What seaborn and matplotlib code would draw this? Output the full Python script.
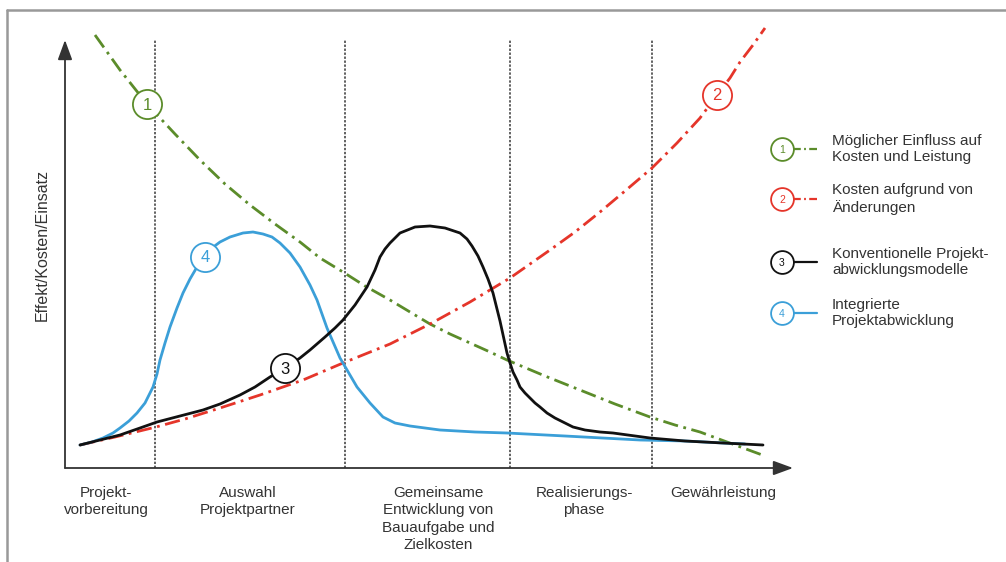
import seaborn as sns
import matplotlib.pyplot as plt
import pandas as pd

# values (x: along the time axis, y: height above the x axis)
green_x = [30, 55, 82, 110, 135, 160, 185, 210, 235, 255, 278, 300, 325, 345, 365, 385, 405,
           425, 442, 480, 515, 550, 585, 610, 635, 662, 700]
green_y = [433, 398, 364, 334, 308, 284, 263, 244, 226, 210, 196, 182, 168, 156, 144, 134, 125,
           116, 108, 92, 78, 64, 51, 43, 36, 26, 12]

red_x = [15, 50, 91, 120, 155, 195, 238, 278, 325, 365, 405, 445, 485, 510, 535, 560, 587,
         612, 635, 652, 665, 675, 688, 700]
red_y = [23, 31, 41, 49, 60, 73, 88, 105, 124, 144, 166, 190, 218, 236, 256, 277, 300,
         325, 350, 373, 390, 406, 423, 440]

black_x = [15, 35, 55, 75, 92, 115, 138, 155, 175, 190, 205, 220, 235, 245, 260, 270, 278,
           290, 302, 310, 315, 320, 325, 335, 350, 365, 380, 395, 402, 407, 413, 418, 423,
           428, 435, 442, 445, 448, 452, 455, 460, 465, 470, 475, 482, 490, 498, 508, 520,
           535, 548, 585, 620, 658, 698]
black_y = [23, 28, 33, 40, 46, 52, 58, 64, 73, 81, 91, 100, 110, 118, 131, 140, 148,
           163, 181, 198, 211, 219, 225, 235, 241, 242, 240, 235, 229, 222, 212, 201, 189,
           175, 147, 115, 105, 96, 88, 81, 75, 70, 65, 61, 55, 50, 46, 41, 38,
           36, 35, 30, 27, 25, 23]

blue_x = [15, 27, 38, 48, 55, 64, 72, 80, 88, 92, 95, 100, 105, 112, 118, 125, 132, 140,
          147, 155, 165, 178, 188, 198, 207, 215, 225, 235, 245, 252, 262, 275, 292, 305,
          318, 330, 345, 360, 375, 410, 442, 500, 575, 620, 658, 680]
blue_y = [23, 26, 30, 35, 40, 47, 55, 65, 81, 94, 108, 125, 141, 160, 175, 189, 201, 211,
          220, 226, 231, 235, 236, 234, 231, 225, 215, 201, 183, 168, 140, 110, 81, 65,
          51, 45, 42, 40, 38, 36, 35, 32, 28, 27, 25, 24]

curve_names = ["1", "2", "4", "3"]
curve_colors = {"1": "#5b8c2a", "2": "#e5352a", "3": "#111111", "4": "#3b9fd8"}
marker_x = [82, 652, 220, 140]
marker_y = [364, 373, 100, 211]
marker_ids = ["1", "2", "3", "4"]

phase_bounds = [90, 280, 445, 587]
phase_labels = ["Projekt-\nvorbereitung", "Auswahl\nProjektpartner",
                "Gemeinsame\nEntwicklung von\nBauaufgabe und\nZielkosten",
                "Realisierungs-\nphase", "Gewährleistung"]
phase_centers = [41, 183, 373, 519, 658]

legend_labels = ["Möglicher Einfluss auf\nKosten und Leistung",
                 "Kosten aufgrund von\nÄnderungen",
                 "Konventionelle Projekt-\nabwicklungsmodelle",
                 "Integrierte\nProjektabwicklung"]
legend_y = [319, 269, 206, 155]

sns.set_theme(style='white')
plt.rcParams['font.family'] = ['Liberation Sans', 'DejaVu Sans']
txt = '#333333'

frames = []
for name, xs, ys in [("1", green_x, green_y), ("2", red_x, red_y),
                     ("4", blue_x, blue_y), ("3", black_x, black_y)]:
    frames.append(pd.DataFrame({"curve": name, "x": xs, "y": ys}))
df = pd.concat(frames, ignore_index=True)

fig = plt.figure(figsize=(10.06, 5.62), dpi=100)
ax = fig.add_axes([0, 0, 1, 1])
ax.set_xlim(-65, 941)
ax.set_ylim(-94, 468)
ax.axis('off')

dash = (5.5, 2, 1, 2)
sns.lineplot(data=df, x="x", y="y", hue="curve", style="curve", hue_order=curve_names,
             palette=curve_colors, dashes={"1": dash, "2": dash, "3": "", "4": ""},
             sort=False, estimator=None, linewidth=2.0, legend=False, ax=ax, zorder=3)

# phase separators
for b in phase_bounds:
    ax.plot([b, b], [0, 428], color='#555555', lw=1.3, ls=(0, (1.3, 0.9)), zorder=1)

# axes with arrows
for tip in [(728, 0), (0, 428)]:
    ax.annotate('', xy=tip, xytext=(0, 0),
                arrowprops=dict(arrowstyle='-|>,head_length=0.6,head_width=0.22',
                                color='#333333', lw=1.3, mutation_scale=20,
                                shrinkA=0, shrinkB=0), zorder=2)

# numbered circles on curves
for mx, my, mid in zip(marker_x, marker_y, marker_ids):
    c = curve_colors[mid]
    ax.scatter([mx], [my], s=440, facecolor='white', edgecolor=c, linewidth=1.3, zorder=5)
    ax.text(mx, my - 1, mid, color=c, fontsize=12, ha='center', va='center', zorder=6)

# legend on the right
for mid, ly, lab in zip(marker_ids, legend_y, legend_labels):
    c = curve_colors[mid]
    ls = (0, (3.5, 1.5, 0.8, 1.5)) if mid in ("1", "2") else '-'
    ax.plot([728, 752], [ly, ly], color=c, lw=1.6, ls=ls, zorder=4)
    ax.scatter([717], [ly], s=270, facecolor='white', edgecolor=c, linewidth=1.3, zorder=5)
    ax.text(717, ly - 1, mid, color=c, fontsize=7.5, ha='center', va='center', zorder=6)
    ax.text(767, ly, lab, color=txt, fontsize=11, ha='left', va='center', linespacing=1.2)

# phase labels
for cx, lab in zip(phase_centers, phase_labels):
    ax.text(cx, -18, lab, color=txt, fontsize=11, ha='center', va='top',
            multialignment='center', linespacing=1.3)

ax.text(-23, 223, 'Effekt/Kosten/Einsatz', color=txt, fontsize=11.5, rotation=90,
        ha='center', va='center')

# frame lines of the clipped image
ax.plot([-58, 941], [458, 458], color='#999999', lw=1.8, clip_on=False)
ax.plot([-58, -58], [458, -94], color='#999999', lw=1.8, clip_on=False)

fig.savefig('out.png', dpi=100)
